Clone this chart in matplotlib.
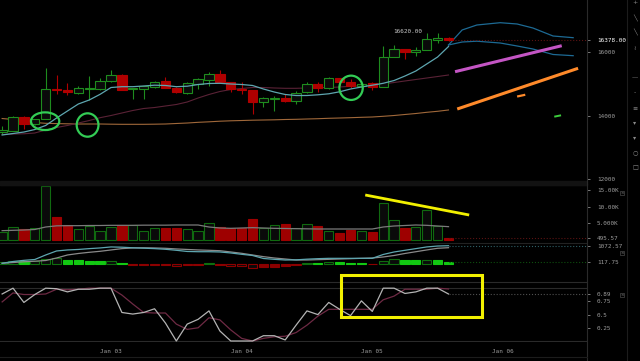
import numpy as np
import pandas as pd
import matplotlib
matplotlib.use("Agg")
import matplotlib.pyplot as plt
import matplotlib.dates as mdates
from matplotlib.patches import Ellipse, Rectangle
from matplotlib.lines import Line2D

BG = "#000000"
SEP = "#2a2a2a"
TXT = "#9c9c9c"
UP = "#1e8c1e"
DOWN = "#b00000"
MONO = "DejaVu Sans Mono"

base = pd.Timestamp("2018-01-03")
times = pd.date_range("2018-01-02 04:00", periods=42, freq="2h")

# 2h candles
opens = [13500, 13530, 13968, 13730, 13896, 14850, 14810, 14725, 14840, 14840,
         15095, 15285, 14840, 14830, 14895, 15085, 14883, 14725, 15010, 15135,
         15306, 15053, 14850, 14800, 14442, 14540, 14558, 14473, 14738, 14990,
         14883, 15180, 15053, 14946, 15022, 14915, 15861, 16104, 16019, 16072,
         16390, 16460]
highs = [13680, 13990, 13975, 13900, 15495, 15284, 15040, 14946, 15262, 15180,
         15440, 15300, 14880, 14945, 15080, 15211, 14890, 15072, 15180, 15369,
         15432, 15060, 15053, 14820, 14600, 14621, 14684, 14779, 15072, 15072,
         15211, 15190, 15158, 15053, 15053, 16208, 16230, 16110, 16177, 16620,
         16600, 16483]
lows = [13410, 13515, 13580, 13700, 13880, 14700, 14650, 14675, 14495, 14820,
        15070, 14800, 14517, 14517, 14880, 14860, 14720, 14684, 14833, 14946,
        15040, 14757, 14675, 14053, 14284, 14157, 14441, 14359, 14720, 14757,
        14833, 14937, 14864, 14920, 14810, 14900, 15840, 15789, 15883, 16060,
        16284, 16370]
closes = [13550, 13950, 13728, 13886, 14833, 14800, 14740, 14865, 14860, 15095,
          15285, 14820, 14865, 14935, 15072, 14874, 14738, 15031, 15167, 15315,
          15053, 14851, 14800, 14432, 14549, 14555, 14473, 14706, 14990, 14883,
          15180, 15072, 14937, 15010, 14915, 15861, 16104, 16019, 16072, 16420,
          16460, 16378]

ma_fast = [13391, 13438, 13485, 13564, 13691, 13927, 14148, 14369, 14495, 14675,
           14889, 14915, 14915, 14937, 14962, 14953, 14915, 14930, 14984, 15016,
           15022, 15000, 14984, 14953, 14842, 14747, 14669, 14637, 14637, 14659,
           14691, 14754, 14842, 14905, 14962, 15022, 15110, 15252, 15410, 15631,
           15852, 16183]
ma_mid = [13407, 13422, 13429, 13454, 13549, 13627, 13691, 13769, 13848, 13937,
          14006, 14085, 14164, 14227, 14258, 14306, 14353, 14432, 14558, 14669,
          14763, 14826, 14858, 14889, 14889, 14874, 14864, 14864, 14874, 14880,
          14889, 14905, 14927, 14943, 14968, 15000, 15047, 15095, 15142, 15189,
          15236, 15284]
ma_slow = [13911, 13880, 13833, 13785, 13760, 13750, 13744, 13738, 13738, 13738,
           13732, 13728, 13728, 13728, 13732, 13738, 13754, 13769, 13791, 13807,
           13826, 13839, 13848, 13858, 13864, 13870, 13880, 13886, 13896, 13905,
           13918, 13927, 13937, 13949, 13959, 13981, 14006, 14038, 14069, 14107,
           14139, 14180]

volume = [2500, 3800, 3300, 3600, 16300, 7000, 4500, 3300, 4100, 2800,
          3800, 4500, 4500, 2600, 3700, 3700, 3600, 3400, 2800, 5000,
          3900, 3600, 3700, 6400, 3600, 4400, 4800, 3600, 4800, 4100,
          2800, 2200, 3100, 2800, 2300, 11100, 5900, 3700, 3800, 9000,
          4300, 495.57]
vol_ma = [2800, 2900, 3000, 3150, 3900, 4250, 4300, 4300, 4350, 4350,
          4400, 4400, 4400, 4450, 4450, 4450, 4500, 4500, 4500, 3900,
          3600, 3500, 3600, 3700, 3600, 3500, 3450, 3400, 3350, 3300,
          3300, 3300, 3300, 3300, 3300, 3900, 4200, 4350, 4500, 4400,
          4200, 4000]

macd = [24, 130, 200, 250, 520, 760, 820, 850, 900, 940,
        1000, 985, 950, 925, 900, 860, 800, 730, 715, 715,
        700, 640, 560, 490, 310, 260, 220, 230, 270, 300,
        320, 320, 320, 320, 320, 550, 700, 800, 900, 1000,
        1055, 1072.57]
signal = [24, 70, 115, 150, 190, 340, 520, 610, 680, 740,
          820, 900, 940, 950, 940, 920, 880, 850, 820, 800,
          775, 700, 620, 520, 420, 340, 280, 220, 220, 240,
          260, 280, 300, 320, 340, 400, 490, 610, 715, 820,
          920, 955]
hist = [80, 140, 135, 145, 260, 320, 250, 200, 140, 135,
        145, 40, -80, -80, -78, -76, -120, -80, -75, 40,
        -80, -120, -125, -240, -200, -195, -160, -100, 60, 58,
        120, 80, 60, 40, -40, 140, 260, 220, 200, 220,
        200, 117.75]

stoch_k = [0.89, 1.0, 0.73, 0.88, 1.0, 0.99, 0.93, 0.98, 0.98, 1.0,
           1.0, 0.54, 0.51, 0.54, 0.61, 0.34, 0.0, 0.32, 0.41, 0.57,
           0.19, 0.0, 0.0, 0.0, 0.10, 0.10, 0.02, 0.30, 0.57, 0.50,
           0.73, 0.60, 0.48, 0.76, 0.56, 1.0, 1.0, 0.90, 0.93, 1.0,
           1.0, 0.89]
stoch_d = [0.74, 0.91, 0.88, 0.88, 0.89, 0.98, 0.97, 0.98, 1.0, 1.0,
           1.0, 0.87, 0.70, 0.54, 0.53, 0.53, 0.32, 0.22, 0.25, 0.44,
           0.40, 0.21, 0.05, 0.0, 0.05, 0.08, 0.09, 0.16, 0.30, 0.47,
           0.60, 0.60, 0.60, 0.60, 0.60, 0.78, 0.85, 0.98, 0.98, 0.98,
           1.0, 0.985]

# projected bands, hours after Jan 03 00:00
band_hours = [62, 64.5, 67.2, 71.5, 74.6, 77.5, 81.2, 84.9]
band_upper = [16230, 16704, 16861, 16934, 16893, 16767, 16514, 16461]
band_lower = [16230, 16325, 16350, 16293, 16199, 16104, 15931, 15893]

# hand drawn marks: (hour, price, width in hours, height in price)
circles = [(-12.1, 13826, 5.2, 558), (-4.3, 13706, 4.0, 738), (44.1, 14880, 4.3, 767)]
magenta_h, magenta_p = [63.2, 82.8], [15388, 16208]
orange_h, orange_p = [63.6, 85.8], [14211, 15495]
dash_or_h, dash_or_p = [74.8, 75.9], [14612, 14653]
dash_gr_h, dash_gr_p = [81.6, 82.5], [13975, 14006]
vol_line_h, vol_line_v = [46.7, 65.8], [13500, 7500]
box_h, box_v = [42.2, 68.1], [0.46, 1.25]

day_labels = ["Jan 03", "Jan 04", "Jan 05", "Jan 06"]


def hx(h):
    return mdates.date2num(base + pd.Timedelta(hours=h))


x = mdates.date2num(times)
w = 1.7 / 24
last_x = x[-1]
W, H = 640, 361

fig = plt.figure(figsize=(6.4, 3.61), dpi=100, facecolor=BG)


def panel(top_px, bot_px):
    ax = fig.add_axes([0, 1 - bot_px / H, 587 / W, (bot_px - top_px) / H])
    ax.set_facecolor(BG)
    for s in ax.spines.values():
        s.set_visible(False)
    ax.set_xlim(hx(-20.39), hx(87.44))
    ax.yaxis.tick_right()
    ax.tick_params(axis="y", colors="#7a7a7a", labelcolor=TXT, labelsize=4.3,
                   length=2.2, width=0.7, pad=5)
    ax.tick_params(axis="x", bottom=False, labelbottom=False)
    return ax


# ---- price panel
ax_p = panel(0, 184)
ax_p.set_ylim(11845, 17650)
for i in range(len(x)):
    up = closes[i] >= opens[i]
    c = UP if up else DOWN
    ax_p.vlines(x[i], lows[i], highs[i], color=c, lw=0.8, zorder=3)
    lo, hi = min(opens[i], closes[i]), max(opens[i], closes[i])
    ax_p.bar(x[i], max(hi - lo, 15), bottom=lo, width=w,
             facecolor="#0a0a0a" if up else DOWN, edgecolor=c, lw=0.8, zorder=4)
ax_p.plot(x, ma_slow, color="#a0683a", lw=0.8, zorder=2)
ax_p.plot(x, ma_mid, color="#5a2236", lw=0.8, zorder=2)
ax_p.plot(x, ma_fast, color="#5ea6b0", lw=0.9, zorder=5)
bx = [hx(h) for h in band_hours]
ax_p.plot(bx, band_upper, color="#1d6a94", lw=0.9)
ax_p.plot(bx, band_lower, color="#1d6a94", lw=0.9)
ax_p.plot([last_x, hx(87.44)], [closes[-1]] * 2, color="#5a1212", lw=0.8, ls=":")
ax_p.plot([hx(h) for h in magenta_h], magenta_p, color="#c455c4", lw=2.2,
          solid_capstyle="butt")
ax_p.plot([hx(h) for h in orange_h], orange_p, color="#ff8a2a", lw=2.2,
          solid_capstyle="butt")
ax_p.plot([hx(h) for h in dash_or_h], dash_or_p, color="#ff8a2a", lw=1.6)
ax_p.plot([hx(h) for h in dash_gr_h], dash_gr_p, color="#3ccc3c", lw=1.4)
for h, p, ew, eh in circles:
    ax_p.add_patch(Ellipse((hx(h), p), ew / 24, eh, fill=False,
                           ec="#33cc55", lw=1.6, zorder=6))
ax_p.text(hx(57.2), 16650, "16620.00", color="#c8c8c8", fontsize=4.3,
          family=MONO, ha="right", va="center")
ax_p.set_yticks([12000, 14000, 16000, closes[-1]])
ax_p.set_yticklabels(["12000", "14000", "16000", f"{closes[-1]:.2f}"],
                     family=MONO)
ax_p.get_yticklabels()[-1].set_color("white")

# ---- volume panel
ax_v = panel(185, 243)
ax_v.set_ylim(-900, 16500)
for i in range(len(x)):
    up = closes[i] >= opens[i]
    ax_v.bar(x[i], volume[i], width=w,
             facecolor="#0a0a0a" if up else "#9e0000",
             edgecolor="#106a10" if up else "#9e0000", lw=0.8)
ax_v.plot(x, vol_ma, color="#7a7a7a", lw=0.9)
ax_v.plot([last_x, hx(87.44)], [volume[-1]] * 2, color="#5a1212", lw=0.8, ls=":")
ax_v.plot([hx(h) for h in vol_line_h], vol_line_v, color="#f2f000", lw=2.0,
          solid_capstyle="butt")
ax_v.set_yticks([volume[-1], 5000, 10000, 15000])
ax_v.set_yticklabels([f"{volume[-1]:.2f}", "5.000K", "10.00K", "15.00K"],
                     family=MONO)
ax_v.spines["top"].set_visible(True)
ax_v.spines["top"].set_color("#303030")
ax_v.spines["top"].set_linewidth(1.5)
ax_v.spines["bottom"].set_visible(True)
ax_v.spines["bottom"].set_color("#222222")

# ---- MACD panel
ax_m = panel(245, 282)
ax_m.set_ylim(-1093, 1116)
for i in range(len(x)):
    v = hist[i]
    prev = hist[i - 1] if i > 0 else 0
    if np.sign(v) == np.sign(prev):
        hollow = abs(v) > abs(prev)
    else:
        hollow = v > 0
    if v >= 0:
        fc, ec = ("#0a0a0a", "#0e6e0e") if hollow else ("#12c812", "#12c812")
    else:
        fc, ec = ("#0a0a0a", "#8c0000") if hollow else ("#8c0000", "#8c0000")
    ax_m.bar(x[i], v, width=w, facecolor=fc, edgecolor=ec, lw=0.8)
ax_m.plot(x, signal, color="#8a8a8a", lw=0.9)
ax_m.plot(x, macd, color="#5ea6b0", lw=0.9)
ax_m.plot([last_x, hx(87.44)], [macd[-1]] * 2, color="#2f5f66", lw=0.8, ls=":")
ax_m.plot([last_x, hx(87.44)], [hist[-1]] * 2, color="#0e4e0e", lw=0.8, ls=":")
ax_m.set_yticks([hist[-1], macd[-1]])
ax_m.set_yticklabels([f"{hist[-1]:.2f}", f"{macd[-1]:.2f}"], family=MONO)

# ---- stochastic panel
ax_s = panel(282, 342)
ax_s.set_ylim(-0.019, 1.117)
ax_s.axhline(1.0, color=SEP, lw=0.8)
ax_s.axhline(0.0, color=SEP, lw=0.8)
ax_s.spines["top"].set_visible(True)
ax_s.spines["top"].set_color(SEP)
ax_s.plot(x, stoch_d, color="#6e2a44", lw=0.9)
ax_s.plot(x, stoch_k, color="#b4b4b4", lw=0.9)
ax_s.plot([last_x, hx(87.44)], [stoch_k[-1]] * 2, color="#505050", lw=0.8, ls=":")
ax_s.add_patch(Rectangle((hx(box_h[0]), box_v[0]), hx(box_h[1]) - hx(box_h[0]),
                         box_v[1] - box_v[0], fill=False, ec="#f2f000", lw=2.2,
                         clip_on=False, zorder=6))
ax_s.set_yticks([0.25, 0.5, 0.75, stoch_k[-1]])
ax_s.set_yticklabels(["0.25", "0.5", "0.75", f"{stoch_k[-1]:.2f}"], family=MONO)
ax_s.set_xticks([mdates.date2num(base + pd.Timedelta(days=d)) for d in range(4)])
ax_s.set_xticklabels(day_labels, family=MONO)
ax_s.tick_params(axis="x", bottom=False, labelbottom=True, labelsize=4.3,
                 labelcolor=TXT, pad=1.5)

# ---- frame lines, toolbar, close buttons
fig.add_artist(Line2D([587 / W] * 2, [0, 1], color=SEP, lw=0.8))
fig.add_artist(Line2D([627 / W] * 2, [0, 1], color="#1c1c1c", lw=0.8))
fig.add_artist(Line2D([0, 587 / W], [1 - 357 / H] * 2, color="#1c1c1c", lw=0.8))
fig.add_artist(Rectangle((0, 1 - 185 / H), 587 / W, 4 / H, color="#121212",
                         transform=fig.transFigure))
for yp in [193, 253, 295]:
    fig.text(622 / W, 1 - yp / H, "×", color="#8a8a8a", fontsize=3,
             ha="center", va="center",
             bbox=dict(boxstyle="square,pad=0.1", fc=BG, ec="#5a5a5a", lw=0.4))
icons = [(3, "+"), (18, "╲"), (33, "╲"), (48, "≀"), (78, "—"), (93, "-"),
         (108, "≡"), (123, "▾"), (138, "▾"), (153, "○"), (168, "□")]
for yp, g in icons:
    fig.text(635 / W, 1 - yp / H, g, color="#8a8a8a", fontsize=4.5,
             ha="center", va="center")

fig.savefig("out.png", dpi=100, facecolor=BG)
